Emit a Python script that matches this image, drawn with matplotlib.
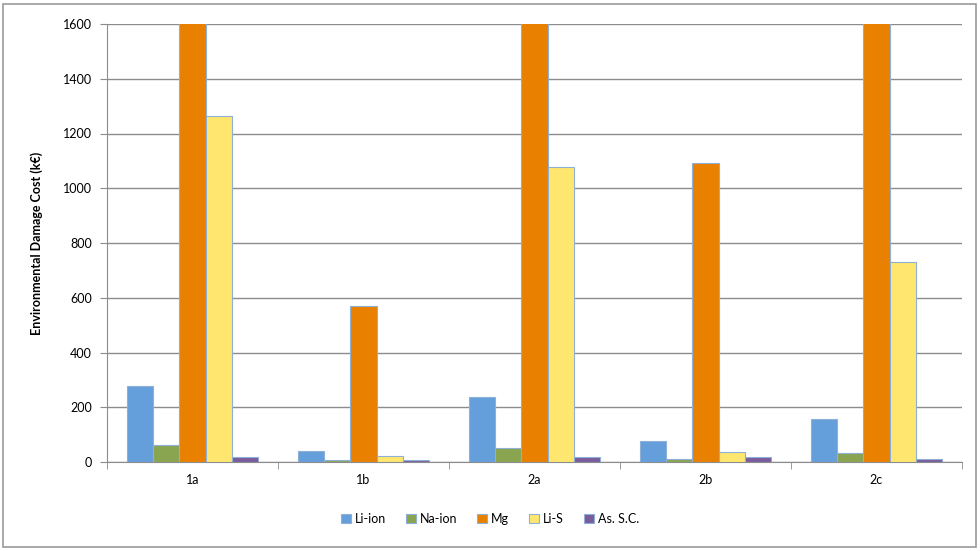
import matplotlib.pyplot as plt
from matplotlib.patches import Patch, Rectangle
import numpy as np

plt.rcParams['font.family'] = ['Lato', 'DejaVu Sans']

cases = ['1a', '1b', '2a', '2b', '2c']
series = ['Li-ion', 'Na-ion', 'Mg', 'Li-S', 'As. S.C.']
colors = ['#659fdb', '#8aa54f', '#e98000', '#ffe66e', '#7a5b9c']

# k€ per scenario; Mg runs off the top of the axis in 1a, 2a and 2c
li_ion = [278, 41, 239, 78, 157]
na_ion = [62, 9, 50, 12, 34]
mg = [3000, 570, 3000, 1092, 3000]
li_s = [1265, 21, 1078, 37, 730]
as_sc = [19, 8, 17, 17, 12]
values = [li_ion, na_ion, mg, li_s, as_sc]

fig = plt.figure(figsize=(9.8, 5.51), dpi=100)
ax = fig.add_axes([107 / 980, 89 / 551, 855 / 980, 438 / 551])

x = np.arange(len(cases))
w = 1 / 6.5
for i, (name, vals) in enumerate(zip(series, values)):
    ax.bar(x + (i - 2) * w, vals, width=w, color=colors[i], edgecolor='#8fb0d6',
           linewidth=0.8, label=name, zorder=3)

ax.set_xlim(-0.5, len(cases) - 0.5)
ax.set_ylim(0, 1600)
ax.set_yticks(range(0, 1601, 200))
ax.yaxis.grid(True, color='#8c8c8c', linewidth=1.0, zorder=0)
ax.set_xticks(x)
ax.set_xticklabels(cases)
ax.set_xticks(np.arange(-0.5, len(cases)), minor=True)
ax.tick_params(axis='x', which='major', length=0, pad=9, labelsize=9)
ax.tick_params(axis='x', which='minor', length=5, color='#8c8c8c')
ax.tick_params(axis='y', length=5, color='#8c8c8c', labelsize=9, pad=6)
for s in ['top', 'right']:
    ax.spines[s].set_visible(False)
for s in ['left', 'bottom']:
    ax.spines[s].set_color('#8c8c8c')
ax.set_ylabel('Environmental Damage Cost (k€)', fontsize=9, fontweight='bold', labelpad=14)

handles = [Patch(facecolor=c, edgecolor='#8fb0d6', linewidth=0.8) for c in colors]
fig.legend(handles, series, loc='center', bbox_to_anchor=(0.5, 1 - 519 / 551), ncol=5,
           frameon=False, fontsize=9, handlelength=0.8, handleheight=0.8,
           handletextpad=0.3, columnspacing=1.6)

fig.patches.append(Rectangle((3 / 980, 4 / 551), 973 / 980, 543 / 551, transform=fig.transFigure,
                             fill=False, edgecolor='#9a9a9a', linewidth=1.2))

fig.savefig('out.png', dpi=100)
